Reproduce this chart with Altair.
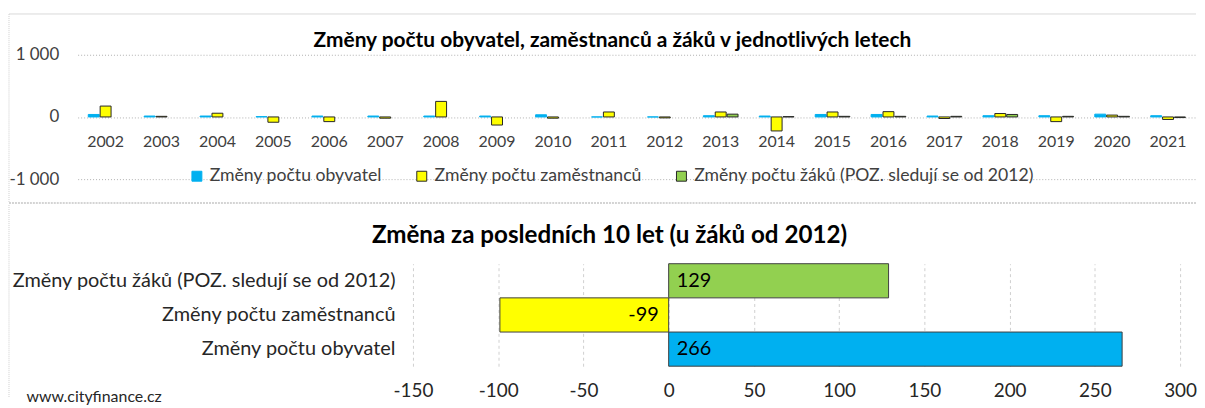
import altair as alt
import pandas as pd

years = ["2002", "2003", "2004", "2005", "2006", "2007", "2008", "2009", "2010", "2011",
         "2012", "2013", "2014", "2015", "2016", "2017", "2018", "2019", "2020", "2021"]
S1 = "Změny počtu obyvatel"
S2 = "Změny počtu zaměstnanců"
S3 = "Změny počtu žáků (POZ. sledují se od 2012)"
series = [S1, S2, S3]

obyvatel = [40, 15, 15, 5, 15, 15, 15, 15, 35, 0, 0, 20, 15, 40, 40, 15, 20, 20, 45, 20]
zamestnanci = [175, 10, 60, -85, -75, -20, 250, -130, -20, 80, -15, 80, -225, 80, 85, -25, 55, -75, 30, -40]
zaci = [None, None, None, None, None, None, None, None, None, None, None, 45, 5, 10, 10, 10, 40, 10, 10, -10]

last10_series = [S3, S2, S1]
last10_values = [129, -99, 266]

colors = ["#00B0F0", "#FFFF00", "#92D050"]
strokes = ["#00B0F0", "#262626", "#262626"]
FONT = "Lato"
W = 1124

rows = []
for i, y in enumerate(years):
    for s, vals in zip(series, [obyvatel, zamestnanci, zaci]):
        if vals[i] is not None:
            rows.append({"year": y, "series": s, "value": vals[i]})
df_top = pd.DataFrame(rows)
df_bot = pd.DataFrame({"series": last10_series, "value": last10_values})
frame_df = pd.DataFrame({"frame": [0]})

legend_cfg = alt.Legend(
    title=None, orient="none", legendX=111, legendY=113, direction="horizontal",
    symbolType="square", symbolSize=100, symbolStrokeWidth=1, labelFontSize=17.7,
    labelColor="#404040", labelFont=FONT, columnPadding=31, labelLimit=600,
)

xscale = alt.X("year:O", sort=years, scale=alt.Scale(paddingInner=0.38, paddingOuter=0.19), axis=None)

bars_top = alt.Chart(df_top).mark_bar(strokeWidth=1).encode(
    x=xscale,
    xOffset=alt.XOffset("series:N", sort=series, scale=alt.Scale(domain=series, paddingInner=0.08)),
    y=alt.Y("value:Q", scale=alt.Scale(domain=[-1000, 1000], nice=False),
            axis=alt.Axis(values=[-1000, 0, 1000], title=None, domain=False, ticks=False,
                          grid=True, gridDash=[1, 2], gridColor="#b0b0b0",
                          labelExpr="replace(replace(format(datum.value, ','), ',', ' '), '\u2212', '-')",
                          labelFontSize=17, labelColor="#404040", labelFont=FONT, labelPadding=19)),
    color=alt.Color("series:N", sort=series, scale=alt.Scale(domain=series, range=colors), legend=legend_cfg),
    stroke=alt.Stroke("series:N", sort=series, scale=alt.Scale(domain=series, range=strokes), legend=legend_cfg),
)

year_text = alt.Chart(pd.DataFrame({"year": years})).mark_text(
    dy=25, fontSize=16, color="#404040", font=FONT
).encode(x=alt.X("year:O", sort=years), y=alt.datum(0), text="year:N")

# chart-area frame lines (decoration)
frame_top = alt.Chart(frame_df).mark_rule(color="#d9d9d9", strokeWidth=1).encode(
    x=alt.value(-69), x2=alt.value(1124), y=alt.value(-41))
frame_left_top = alt.Chart(frame_df).mark_rule(color="#cfcfcf", strokeWidth=1, strokeDash=[1, 1]).encode(
    x=alt.value(-69), y=alt.value(-41), y2=alt.value(149))
frame_sep = alt.Chart(frame_df).mark_rule(color="#d4d4d4", strokeWidth=2, strokeDash=[2, 1]).encode(
    x=alt.value(-69), x2=alt.value(1124), y=alt.value(149))

top = alt.layer(frame_top, frame_left_top, frame_sep, bars_top, year_text).properties(
    width=W, height=125,
    title=alt.TitleParams("Změny počtu obyvatel, zaměstnanců a žáků v jednotlivých letech",
                          fontSize=21, font=FONT, fontWeight="bold", color="#000000",
                          anchor="middle", frame="bounds", offset=-38, dx=10),
)

ybot = alt.Y("series:N", sort=last10_series, scale=alt.Scale(paddingInner=0, paddingOuter=0),
             axis=alt.Axis(title=None, domain=False, ticks=False, labelFontSize=20, labelFont=FONT,
                           labelColor="#262626", labelPadding=18, labelLimit=600, offset=-337))

bars_bot = alt.Chart(df_bot).mark_bar(stroke="#404040", strokeWidth=1).encode(
    x=alt.X("value:Q", scale=alt.Scale(domain=[-150, 300], nice=False, range=[337, 1108]),
            axis=alt.Axis(values=list(range(-150, 301, 50)), grid=True, gridDash=[3, 3],
                          gridColor="#d0d0d0", domain=False, ticks=False, labelFontSize=19,
                          labelFlush=False,
                          labelExpr="replace(format(datum.value, 'd'), '\u2212', '-')",
                          labelFont=FONT, labelColor="#262626", labelPadding=15,
                          title="www.cityfinance.cz", titleX=-52, titleY=30, titleAlign="left",
                          titleBaseline="middle", titleFontSize=16, titleFontWeight="normal",
                          titleFont=FONT, titleColor="#262626")),
    y=ybot,
    color=alt.Color("series:N", scale=alt.Scale(domain=series, range=colors), legend=None),
)

lbl_pos = alt.Chart(df_bot).transform_filter("datum.value > 0").transform_calculate(
    lab="'' + datum.value"
).mark_text(align="left", dx=8, fontSize=20, font=FONT, color="#000000").encode(
    x=alt.datum(0), y=ybot, text="lab:N")
lbl_neg = alt.Chart(df_bot).transform_filter("datum.value < 0").transform_calculate(
    lab="'' + datum.value"
).mark_text(align="right", dx=-10, fontSize=20, font=FONT, color="#000000").encode(
    x=alt.datum(0), y=ybot, text="lab:N")

frame_left_bot = alt.Chart(frame_df).mark_rule(color="#cfcfcf", strokeWidth=1, strokeDash=[1, 1]).encode(
    x=alt.value(-69), y=alt.value(-59), y2=alt.value(134))

bottom = alt.layer(frame_left_bot, bars_bot, lbl_pos, lbl_neg).properties(
    width=W, height=103,
    title=alt.TitleParams("Změna za posledních 10 let (u žáků od 2012)", fontSize=24.3, font=FONT,
                          fontWeight="bold", color="#000000", anchor="middle", frame="bounds",
                          offset=-44, dx=7),
)

chart = alt.vconcat(top, bottom, spacing=0).properties(
    padding={"left": 0, "top": 4, "right": 0, "bottom": 0}
).configure_view(stroke=None)

chart.save("out.html", embed_options={"renderer": "svg", "actions": False})
